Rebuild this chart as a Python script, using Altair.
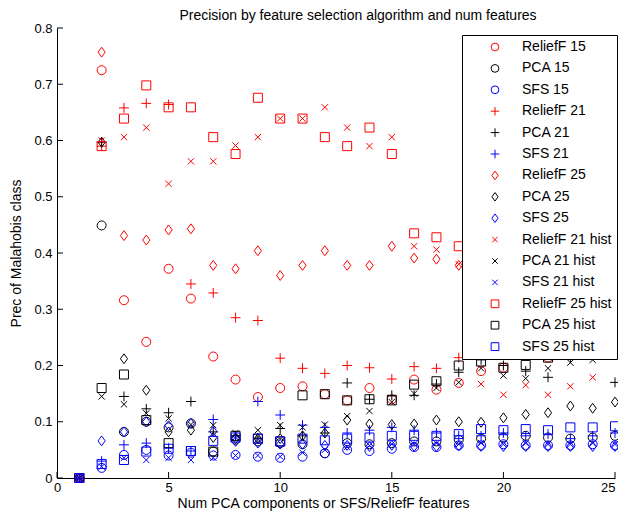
import altair as alt
import pandas as pd

# ---------------- data ----------------
n_features = list(range(1, 26))

series_names = [
    "ReliefF 15", "PCA 15", "SFS 15",
    "ReliefF 21", "PCA 21", "SFS 21",
    "ReliefF 25", "PCA 25", "SFS 25",
    "ReliefF 21 hist", "PCA 21 hist", "SFS 21 hist",
    "ReliefF 25 hist", "PCA 25 hist", "SFS 25 hist",
]
series_colors = ["#ff0000", "#000000", "#0000ff"] * 5

CIRCLE = "circle"
PLUS = "M-1.1,0H1.1M0,-1.1V1.1"
DIAMOND = "M0,-1.1L0.8,0L0,1.1L-0.8,0Z"
XMARK = "M-0.7,-0.7L0.7,0.7M-0.7,0.7L0.7,-0.7"
SQUARE = "square"
series_shapes = [CIRCLE] * 3 + [PLUS] * 3 + [DIAMOND] * 3 + [XMARK] * 3 + [SQUARE] * 3

relieff_15 = [0, .725, .316, .242, .372, .319, .216, .175, .144, .160, .163, .149, .138, .160, .140, .175, .157, .169, .190, .196, .222, .214, .250, .265, .285]
pca_15 = [0, .449, .082, .100, .090, .097, .047, .068, .065, .062, .060, .044, .062, .060, .062, .065, .065, .068, .070, .072, .075, .072, .070, .072, .075]
sfs_15 = [0, .018, .041, .050, .040, .045, .040, .041, .038, .036, .038, .044, .050, .048, .052, .055, .055, .058, .058, .060, .058, .058, .058, .060, .058]

relieff_21 = [0, .590, .658, .666, .664, .345, .329, .285, .280, .213, .195, .186, .200, .196, .176, .198, .195, .214, .245, .255, .250, .260, .255, .265, .258]
pca_21 = [0, .597, .145, .123, .116, .136, .082, .075, .070, .088, .075, .080, .169, .140, .147, .147, .167, .188, .210, .200, .190, .179, .214, .219, .170]
sfs_21 = [0, .030, .059, .062, .053, .048, .104, .075, .136, .112, .094, .090, .080, .085, .090, .085, .080, .075, .075, .080, .075, .078, .070, .075, .080]

relieff_25 = [0, .757, .431, .423, .441, .443, .378, .372, .404, .360, .378, .404, .378, .378, .412, .391, .389, .378, .395, .400, .385, .410, .395, .405, .360]
pca_25 = [0, .597, .212, .156, .082, .085, .072, .070, .070, .070, .075, .080, .103, .096, .095, .096, .103, .100, .099, .107, .113, .116, .128, .124, .135]
sfs_25 = [0, .066, .082, .100, .093, .097, .083, .065, .062, .060, .060, .058, .058, .056, .058, .056, .056, .057, .056, .056, .056, .056, .056, .056, .056]

relieff_21_hist = [0, .600, .606, .623, .523, .563, .563, .591, .606, .639, .639, .659, .623, .590, .606, .412, .406, .380, .167, .148, .165, .148, .163, .179, .336]
pca_21_hist = [0, .145, .131, .115, .106, .095, .094, .080, .085, .094, .090, .095, .110, .119, .135, .150, .160, .170, .195, .182, .177, .195, .205, .210, .336]
sfs_21_hist = [0, .020, .036, .032, .036, .032, .036, .040, .040, .038, .045, .050, .055, .058, .060, .060, .062, .060, .062, .060, .062, .060, .060, .062, .060]

relieff_25_hist = [0, .590, .639, .698, .659, .659, .606, .576, .676, .639, .639, .606, .590, .623, .576, .435, .428, .412, .420, .430, .415, .440, .425, .430, .355]
pca_25_hist = [0, .160, .184, .103, .062, .048, .047, .075, .070, .065, .147, .149, .138, .140, .138, .166, .172, .200, .207, .196, .201, .214, .232, .245, .238]
sfs_25_hist = [0, .025, .032, .047, .052, .048, .066, .072, .070, .065, .070, .067, .070, .072, .075, .075, .075, .078, .087, .085, .087, .085, .090, .090, .092]

all_series = [
    relieff_15, pca_15, sfs_15,
    relieff_21, pca_21, sfs_21,
    relieff_25, pca_25, sfs_25,
    relieff_21_hist, pca_21_hist, sfs_21_hist,
    relieff_25_hist, pca_25_hist, sfs_25_hist,
]

x_ticks = [0, 5, 10, 15, 20, 25]
y_ticks = [0, 0.1, 0.2, 0.3, 0.4, 0.5, 0.6, 0.7, 0.8]

title_text = "Precision by feature selection algorithm and num features"
x_title = "Num PCA components or SFS/ReliefF features"
y_title = "Prec of Malahobis class"

# ---------------- build ----------------
rows = []
for name, vals in zip(series_names, all_series):
    for xv, yv in zip(n_features, vals):
        rows.append({"series": name, "n": xv, "prec": yv})
df = pd.DataFrame(rows)

FONT = "Liberation Sans"
W, H = 558, 450
TL = 6

xs = alt.Scale(domain=[0, 25], nice=False)
ys = alt.Scale(domain=[0, 0.8], nice=False)

legend = alt.Legend(
    title=None, orient="none", legendX=405, legendY=7,
    fillColor="white", strokeColor="black",
    padding=5, symbolOffset=21, labelOffset=20, rowPadding=7.4,
    labelFont=FONT, labelFontSize=14, labelColor="black", labelLimit=300,
    symbolSize=60, symbolStrokeWidth=1, symbolFillColor="transparent",
)

points = alt.Chart(df).mark_point(filled=False, size=81, strokeWidth=1, opacity=1).encode(
    x=alt.X("n:Q", scale=xs, title=x_title,
            axis=alt.Axis(values=x_ticks, format="d", grid=False, tickSize=0,
                          labelFlush=False, labelPadding=3, titlePadding=2,
                          labelAlign=alt.ExprRef(expr="datum.value == 25 ? 'right' : 'center'"),
                          titleX=266, domainColor="black")),
    y=alt.Y("prec:Q", scale=ys, title=y_title,
            axis=alt.Axis(values=y_ticks, grid=False, tickSize=0, labelPadding=5,
                          labelFlush=False, titlePadding=10, domainColor="black",
                          labelExpr="datum.value == 0 ? '0' : format(datum.value, '.1f')")),
    color=alt.Color("series:N", scale=alt.Scale(domain=series_names, range=series_colors), legend=legend),
    shape=alt.Shape("series:N", scale=alt.Scale(domain=series_names, range=series_shapes), legend=legend),
)

xt_df = pd.DataFrame({"t": x_ticks})
yt_df = pd.DataFrame({"t": y_ticks})

xt_bottom = alt.Chart(xt_df).mark_rule(color="black", strokeWidth=1).encode(
    x=alt.X("t:Q", scale=xs, title=x_title), y=alt.value(H), y2=alt.value(H - TL))
yt_left = alt.Chart(yt_df).mark_rule(color="black", strokeWidth=1).encode(
    y=alt.Y("t:Q", scale=ys, title=y_title), x=alt.value(0), x2=alt.value(TL))

chart = alt.layer(points, xt_bottom, yt_left).properties(
    width=W, height=H,
    background="white",
    title=alt.Title(title_text, font=FONT, fontSize=14, fontWeight="normal",
                    color="black", anchor="middle", frame="group", offset=6, dx=22, dy=7),
    autosize=alt.AutoSizeParams(type="none"),
    padding={"left": 49, "top": 20, "right": 3, "bottom": 34},
).configure_view(strokeWidth=0, stroke=None).configure_axis(
    labelFont=FONT, labelFontSize=13, labelColor="black",
    titleFont=FONT, titleFontSize=14, titleFontWeight="normal", titleColor="black",
    domainWidth=1, domainColor="black",
).configure_legend(
    strokeWidth=1, cornerRadius=0,
)

chart.save("out.html", embed_options={"renderer": "svg", "actions": False})
